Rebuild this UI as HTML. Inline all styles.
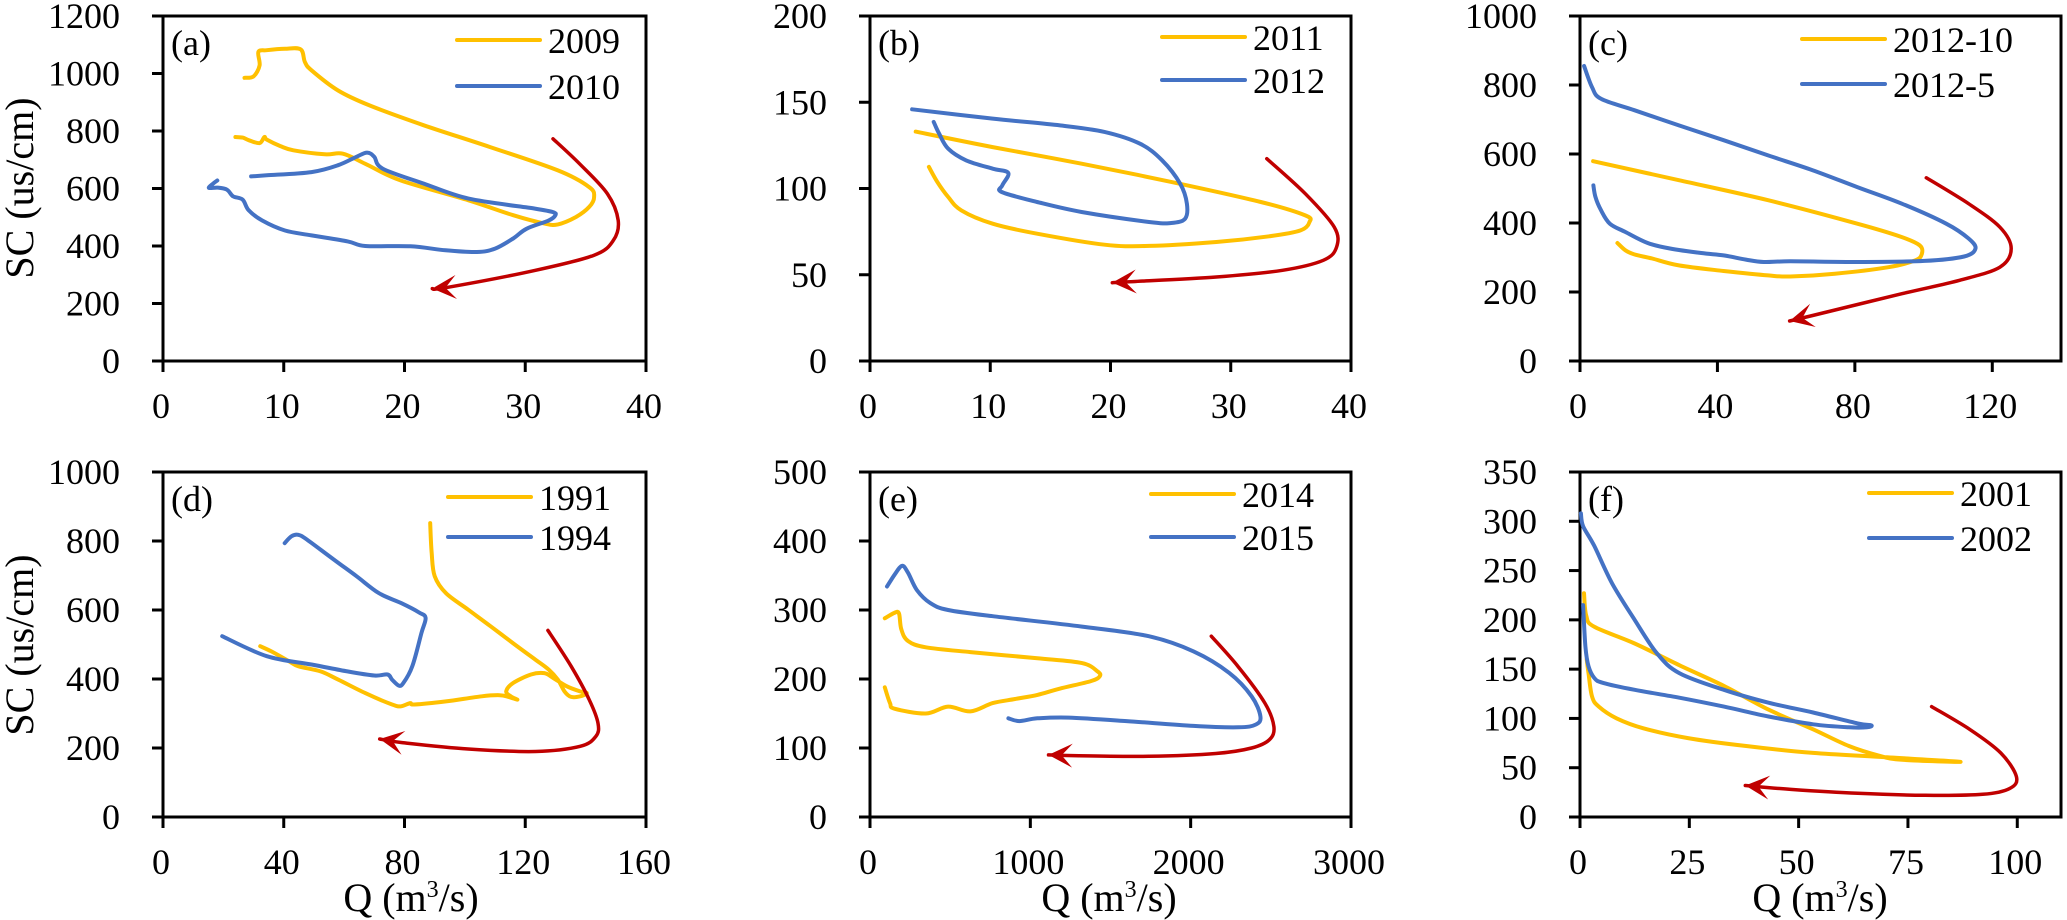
<!DOCTYPE html>
<html><head><meta charset="utf-8"><style>
html,body{margin:0;padding:0;background:#fff;}
svg{display:block;font-family:"Liberation Serif",serif;}
</style></head><body>
<svg id="fig" width="2067" height="920" viewBox="0 0 2067 920" xmlns="http://www.w3.org/2000/svg"></svg>
<script>
// ---- data (Q, SC) ----
const qA2009=[6.75,7.5,8.0,7.9,8.6,10.1,11.4,11.75,12.3,14.5,17.1,21.6,27.1,32.7,35.3,35.7,35.3,34.2,32.7,31.6,29.0,25.3,19.7,16.75,14.9,13.4,10.8,9.7,8.6,8.4,8.0,7.1,6.6,6.0];
const scA2009=[985,990,1028,1075,1081,1086,1084,1040,1011,941,889,820,744,663,605,570,536,501,475,478,507,559,628,686,721,719,733,748,770,779,758,768,777,779];
const qA2010=[7.3,8.6,12.3,14.5,16.0,16.9,17.5,18.2,21.6,25.3,30.8,32.3,32.5,31.95,30.1,29.0,27.5,26.0,23.4,20.5,16.75,15.3,12.3,10.1,8.2,7.1,6.6,5.8,5.3,4.5,3.8,4.15,4.5];
const scA2010=[642,646,657,681,710,725,710,669,617,565,530,518,507,489,460,426,391,379,385,399,400,416,437,454,489,524,561,573,596,603,602,617,628];
const qAArrow=[32.3,34.5,36.8,37.7,37.3,35.7,30.8,23.4,22.3];
const scAArrow=[773,686,582,489,420,368,315,255,252];

const qB2011=[3.8,10.2,17.6,25.05,32.5,36.2,36.55,35.8,33.2,28.8,23.2,19.5,13.9,10.2,7.6,6.5,5.6,4.9];
const scB2011=[133,124,114.4,103.8,92.2,84.4,80.6,75.7,72.3,69,66.7,67.4,73.8,79.6,87.3,95.1,103.8,112.5];
const qB2012=[3.5,10.2,15.8,19.5,22.45,24.3,25.8,26.35,26.2,25.05,23.2,17.6,13.9,10.95,11.0,11.5,10.2,8.0,6.5,5.75,5.3];
const scB2012=[145.9,140.5,136.6,132.8,126,116.3,102.8,91.2,82.5,80,80.6,86.4,92.2,98,101.8,109,111.5,116.3,123.1,131.8,138.6];
const qBArrow=[33.0,36.2,38.6,38.8,37.7,34.3,28.8,21.3,20.15];
const scBArrow=[117.3,97,77.7,66.1,58.4,52.6,48.7,45.8,45.4];

const qC201210=[3.8,28.8,54.75,80.7,93.7,98.9,99.5,97.6,89.8,74.2,61.2,54.75,41.8,28.8,21,15.8,13.2,10.9];
const scC201210=[579,524,466,398,359,335,311,292,272,253,245,248,261,277,297,309,321,342];
const qC20125=[1.2,3.5,6.1,15.8,28.8,41.8,54.75,67.7,80.7,93.7,106.6,113.1,115.1,111.8,100.2,80.7,61.2,53.5,48.3,41.8,35.3,26.2,19.7,13.2,8.7,6.1,4.5,3.9];
const scC20125=[855,794,760,727,683,640,596,553,504,456,398,355,326,303,290,287,289,287,294,306,313,326,342,374,398,437,475,509];
const qCArrow=[100.8,113.1,122.2,125.5,122.2,110.5,93.7,67.7,61.0];
const scCArrow=[531,456,388,326,272,234,195,132,116];

const qD1991=[88.5,89.0,90.0,93.7,101.1,108.5,115.9,123.4,127.8,130.8,133.0,135.2,138.2,140.4,138.2,133.7,129.3,126.3,121.9,115.9,113.7,115.2,117.4,114.5,111.5,105.6,93.7,83.3,81.9,78.9,75.9,67.0,58.1,52.2,44.8,41.8,35.9,32.2];
const scD1991=[852,765,698,649,601,553,504,456,427,398,364,348,350,359,364,379,403,417,413,388,364,350,340,348,353,350,335,326,330,321,326,359,398,422,437,451,480,495];
const qD1994=[40.3,42.6,44.8,47.7,56.6,64.1,71.5,78.9,84.8,87.0,85.6,82.6,79.6,78.1,75.9,74.4,70.0,61.1,49.2,34.4,19.6];
const scD1994=[794,814,818,804,746,698,649,620,593,577,533,437,388,381,398,413,410,422,442,466,524];
const qDArrow=[127.5,135.2,141.2,144.1,143.4,138.2,123.4,101.1,78.9,71.8];
const scDArrow=[541,437,340,272,234,205,190,197,216,226];

const qE2014=[92,153,181,195,237,348,626,1044,1322,1419,1433,1378,1183,1044,905,765,626,487,348,153,125,92];
const scE2014=[288,296,295,272,255,246,239,230,223,211,204,197,186,177,171,165,153,160,150,157,165,188];
const qE2015=[106,153,200,237,292,376,487,765,1322,1739,2018,2240,2380,2435,2407,2296,2018,1600,1239,1044,932,863];
const scE2015=[334,351,364,354,329,310,300,291,276,262,240,209,175,146,134,130,132,139,144,143,139,143];
const qEArrow=[2129,2296,2463,2519,2491,2380,2157,1739,1266,1113];
const scEArrow=[262,218,165,131,112,100,92,88,89,90];

const qF2001=[0.92,1.43,3.27,12.5,22.7,32.9,43.1,53.3,61.5,68.6,73.7,87.0,68.6,53.3,38.0,24.7,14.5,8.4,4.3,2.76,1.94,1.53];
const scF2001=[227,204,193,176,154,133,109,89,72,62,58,56,61,65,72,80,90,100,112,122,146,160];
const qF2002=[0.2,0.72,3.27,7.35,12.5,17.6,22.7,32.9,43.1,53.3,63.5,66.6,65.6,61.5,53.3,43.1,32.9,22.7,12.5,5.3,3.27,1.94,1.23,0.72];
const scF2002=[308,295,275,237,200,166,146,129,116,106,95,93,91,91,94,102,112,121,129,136,141,153,173,215];
const qFArrow=[80.4,89.1,96.2,99.8,98.3,92.1,78.9,63.5,48.2,37.8];
const scFArrow=[112,89,65,41,29,23,22,24,28,32];

const legendA=["2009","2010"],legendB=["2011","2012"],legendC=["2012-10","2012-5"];
const legendD=["1991","1994"],legendE=["2014","2015"],legendF=["2001","2002"];
const yTicksA=[0,200,400,600,800,1000,1200],xTicksA=[0,10,20,30,40];
const yTicksB=[0,50,100,150,200],xTicksB=[0,10,20,30,40];
const yTicksC=[0,200,400,600,800,1000],xTicksC=[0,40,80,120];
const yTicksD=[0,200,400,600,800,1000],xTicksD=[0,40,80,120,160];
const yTicksE=[0,100,200,300,400,500],xTicksE=[0,1000,2000,3000];
const yTicksF=[0,50,100,150,200,250,300,350],xTicksF=[0,25,50,75,100];

const NS="http://www.w3.org/2000/svg";
const svg=document.getElementById('fig');
const YEL="#FFC000",BLU="#4472C4",RED="#C00000";
const FS=36;
function mk(tag,attrs,parent){const e=document.createElementNS(NS,tag);for(const k in attrs)e.setAttribute(k,attrs[k]);(parent||svg).appendChild(e);return e;}

function smoothPath(pts){
  let d="M"+pts[0][0].toFixed(1)+","+pts[0][1].toFixed(1);
  for(let i=0;i<pts.length-1;i++){
    const p0=pts[i-1]||pts[i],p1=pts[i],p2=pts[i+1],p3=pts[i+2]||p2;
    const c1=[p1[0]+(p2[0]-p0[0])/6,p1[1]+(p2[1]-p0[1])/6];
    const c2=[p2[0]-(p3[0]-p1[0])/6,p2[1]-(p3[1]-p1[1])/6];
    d+=" C"+c1[0].toFixed(1)+","+c1[1].toFixed(1)+" "+c2[0].toFixed(1)+","+c2[1].toFixed(1)+" "+p2[0].toFixed(1)+","+p2[1].toFixed(1);
  }
  return d;
}

function panel(cfg){
  const g=mk('g',{});
  
  
  const L=cfg.x0,R=cfg.x1,T=cfg.y0,B=cfg.y1;
  const xs=v=>L+(v-0)/(cfg.xmax)*(R-L);
  const ys=v=>B-(v/cfg.ymax)*(B-T);
  const fr=mk('rect',{x:L,y:T,width:R-L,height:B-T,fill:'none',stroke:'#000','stroke-width':3},g);
  
  
  cfg.yt.forEach(v=>{
    const y=ys(v);
    const tk=mk('line',{x1:L-11,x2:L,y1:y,y2:y,stroke:'#000','stroke-width':3},g);
    
    
    const t=mk('text',{x:L-43,y:y+12,'text-anchor':'end','font-size':FS,fill:'#000'},g);
    t.textContent=v;
    
    
  });
  cfg.xt.forEach(v=>{
    const x=xs(v);
    const tk=mk('line',{x1:x,x2:x,y1:B,y2:B+11,stroke:'#000','stroke-width':3},g);
    
    
    const t=mk('text',{x:x-2,y:B+57,'text-anchor':'middle','font-size':FS,fill:'#000'},g);
    t.textContent=v;
    
    
  });
  const pl=mk('text',{x:L+8,y:T+39,'font-size':FS,fill:'#000'},g);
  pl.textContent='('+cfg.id+')';
  
  
  cfg.series.forEach((s,i)=>{
    const pts=s.q.map((q,j)=>[xs(q),ys(s.sc[j])]);
    const p=mk('path',{d:smoothPath(pts),fill:'none',stroke:s.color,'stroke-width':4,'stroke-linejoin':'round','stroke-linecap':'round'},g);
    
    
  });
  const ap=cfg.arrow.q.map((q,j)=>[xs(q),ys(cfg.arrow.sc[j])]);
  const tip=ap[ap.length-1],prev=ap[ap.length-2];
  const a=mk('path',{d:smoothPath(ap),fill:'none',stroke:RED,'stroke-width':3.5,'stroke-linecap':'round'},g);
  
  
  let dx=tip[0]-prev[0],dy=tip[1]-prev[1];const len=Math.hypot(dx,dy);dx/=len;dy/=len;
  const nx=-dy,ny=dx,HL=24,HW=12;
  const hp=[[tip[0],tip[1]],[tip[0]-dx*HL+nx*HW,tip[1]-dy*HL+ny*HW],[tip[0]-dx*HL*0.55,tip[1]-dy*HL*0.55],[tip[0]-dx*HL-nx*HW,tip[1]-dy*HL-ny*HW]];
  const ah=mk('polygon',{points:hp.map(p=>p.join(',')).join(' '),fill:RED},g);
  
  
  cfg.legend.forEach((lab,i)=>{
    const ly=T+cfg.legY[i];
    const ln=mk('line',{x1:R-cfg.legR-83,x2:R-cfg.legR,y1:ly,y2:ly,stroke:i?BLU:YEL,'stroke-width':4,'stroke-linecap':'round'},g);
    
    
    const t=mk('text',{x:R-cfg.legR+8,y:ly+13,'font-size':FS,fill:'#000'},g);
    t.textContent=lab;
    
    
  });
}

const top0=16,top1=361,bot0=472,bot1=817;
const cols=[[163,646],[870,1351],[1580,2061]];
panel({id:'a',x0:cols[0][0],x1:cols[0][1],y0:top0,y1:top1,xmax:40,ymax:1200,yt:yTicksA,xt:xTicksA,legend:legendA,legY:[24,70],legR:106,
  series:[{name:'2009',q:qA2009,sc:scA2009,color:YEL},{name:'2010',q:qA2010,sc:scA2010,color:BLU}],arrow:{q:qAArrow,sc:scAArrow}});
panel({id:'b',x0:cols[1][0],x1:cols[1][1],y0:top0,y1:top1,xmax:40,ymax:200,yt:yTicksB,xt:xTicksB,legend:legendB,legY:[21,64],legR:106,
  series:[{name:'2011',q:qB2011,sc:scB2011,color:YEL},{name:'2012',q:qB2012,sc:scB2012,color:BLU}],arrow:{q:qBArrow,sc:scBArrow}});
panel({id:'c',x0:cols[2][0],x1:cols[2][1],y0:top0,y1:top1,xmax:140,ymax:1000,yt:yTicksC,xt:xTicksC,legend:legendC,legY:[23,68],legR:176,
  series:[{name:'2012-10',q:qC201210,sc:scC201210,color:YEL},{name:'2012-5',q:qC20125,sc:scC20125,color:BLU}],arrow:{q:qCArrow,sc:scCArrow}});
panel({id:'d',x0:cols[0][0],x1:cols[0][1],y0:bot0,y1:bot1,xmax:160,ymax:1000,yt:yTicksD,xt:xTicksD,legend:legendD,legY:[25,65],legR:115,
  series:[{name:'1991',q:qD1991,sc:scD1991,color:YEL},{name:'1994',q:qD1994,sc:scD1994,color:BLU}],arrow:{q:qDArrow,sc:scDArrow}});
panel({id:'e',x0:cols[1][0],x1:cols[1][1],y0:bot0,y1:bot1,xmax:3000,ymax:500,yt:yTicksE,xt:xTicksE,legend:legendE,legY:[22,65],legR:117,
  series:[{name:'2014',q:qE2014,sc:scE2014,color:YEL},{name:'2015',q:qE2015,sc:scE2015,color:BLU}],arrow:{q:qEArrow,sc:scEArrow}});
panel({id:'f',x0:cols[2][0],x1:cols[2][1],y0:bot0,y1:bot1,xmax:110,ymax:350,yt:yTicksF,xt:xTicksF,legend:legendF,legY:[21,66],legR:109,
  series:[{name:'2001',q:qF2001,sc:scF2001,color:YEL},{name:'2002',q:qF2002,sc:scF2002,color:BLU}],arrow:{q:qFArrow,sc:scFArrow}});

[[188,'a'],[645,'d']].forEach(([cy,id])=>{
  const t=mk('text',{x:0,y:0,'text-anchor':'middle','font-size':40,fill:'#000',transform:'translate(33,'+cy+') rotate(-90)'});
  t.textContent='SC (us/cm)';
  
  
});
[411,1109,1820].forEach((cx,i)=>{
  const t=mk('text',{x:cx,y:911,'text-anchor':'middle','font-size':40,fill:'#000'});
  t.innerHTML='Q (m<tspan dy="-14" font-size="24">3</tspan><tspan dy="14">/s)</tspan>';
  
  
});
</script>
</body></html>
